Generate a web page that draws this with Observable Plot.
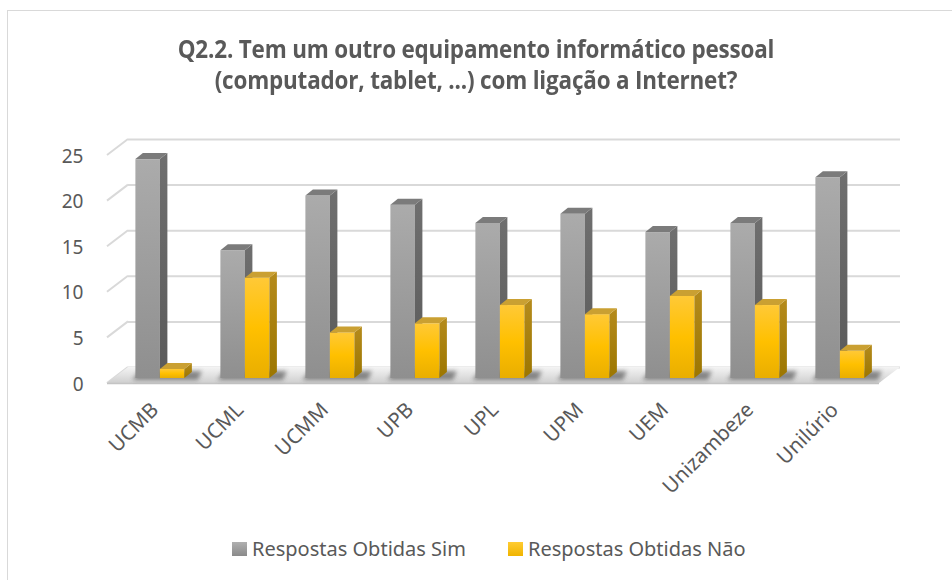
<!DOCTYPE html>
<html><head><meta charset="utf-8">
<script src="https://cdn.jsdelivr.net/npm/d3@7"></script>
<script src="https://cdn.jsdelivr.net/npm/@observablehq/plot@0.6"></script>
<style>
html,body{margin:0;padding:0;background:#fff;overflow:hidden;}
#frame{position:absolute;left:7px;top:10px;width:1000px;height:700px;border:1.5px solid #d9d9d9;box-sizing:border-box;pointer-events:none;}
#title{position:relative;height:115px;box-sizing:border-box;padding-top:33px;text-align:center;
 font-family:"Open Sans","Noto Sans",sans-serif;
 font-weight:bold;font-size:25.5px;color:#595959;}
#title div{height:31px;line-height:31px;}
#title span{display:inline-block;transform:scaleX(0.88);transform-origin:center;letter-spacing:-0.2px;line-height:31px;}
#chart{position:relative;height:405px;}
#legend{position:relative;margin-left:232px;margin-top:15px;display:flex;align-items:center;
 font-family:"Noto Sans",sans-serif;font-size:20px;color:#595959;}
.sw{width:15px;height:14px;display:inline-block;margin-right:5px;}
.item{display:flex;align-items:center;margin-right:42px;}
#chart svg g[aria-label="y-axis tick label"] text{font-size:19px;}
#chart svg g[aria-label="x-axis tick label"] text{font-size:20.5px;}
</style></head>
<body>
<div id="frame"></div>
<div id="title"><div><span>Q2.2. Tem um outro equipamento informático pessoal</span></div><div><span>(computador, tablet, ...) com ligação a Internet?</span></div></div>
<div id="chart"></div>
<div id="legend"></div>
<script>
const categories = ["UCMB","UCML","UCMM","UPB","UPL","UPM","UEM","Unizambeze","Unilúrio"];
const sim = [24,14,20,19,17,18,16,17,22];
const nao = [1,11,5,6,8,7,9,8,3];
const yTicks = [0,5,10,15,20,25];
const seriesNames = ["Respostas Obtidas Sim","Respostas Obtidas Não"];

const rows = categories.map((c,i)=>({cat:c, sim:sim[i], nao:nao[i]}));

// geometry/style constants
const BAR_W = 24.5, DX = 7.5, DY = -6;
const BACK_DX = 15, BACK_DY = -11, FRONT_DX = -6, FRONT_DY = 5;
const W = 952, H = 405, ML = 113, MR = 67, MT = 35, MB = 142;
const step = (W - ML - MR) / categories.length;

const palettes = {
  sim: {front:["#ababab","#8f8f8f"], side:["#6f6f6f","#5a5a5a"], top:"#7b7b7b"},
  nao: {front:["#ffc937","#ffc000","#e9ae00"], side:["#b58b1c","#9c7600"], top:"#caa032"}
};

function grad(defs, id, stops){
  const lg = defs.append("linearGradient").attr("id", id).attr("x1",0).attr("y1",0).attr("x2",0).attr("y2",1);
  stops.forEach((c,i)=> lg.append("stop").attr("offset", i/(stops.length-1)).attr("stop-color", c));
}

function boxes(key){
  return (index, scales, values, dimensions) => {
    const g = d3.create("svg:g");
    const defs = g.append("defs");
    const p = palettes[key];
    grad(defs, key+"Front", p.front);
    grad(defs, key+"Side", p.side);
    for (const i of index) {
      const d = rows[i];
      const center = scales.x(d.cat) + step/2;
      const x = key === "sim" ? center - BAR_W : center;
      const y1 = scales.y(0), y2 = scales.y(d[key]);
      g.append("rect").attr("x", x).attr("y", y2).attr("width", BAR_W).attr("height", y1 - y2)
        .attr("fill", `url(#${key}Front)`);
      g.append("path").attr("d", `M${x+BAR_W},${y1}L${x+BAR_W+DX},${y1+DY}L${x+BAR_W+DX},${y2+DY}L${x+BAR_W},${y2}Z`)
        .attr("fill", `url(#${key}Side)`);
      g.append("path").attr("d", `M${x},${y2}L${x+DX},${y2+DY}L${x+BAR_W+DX},${y2+DY}L${x+BAR_W},${y2}Z`)
        .attr("fill", p.top);
    }
    return g.node();
  };
}

function floor(index, scales, values, dimensions){
  const g = d3.create("svg:g");
  const defs = g.append("defs");
  grad(defs, "floorG", ["#f4f4f4","#e2e2e2","#cfcfcf"]);
  const f = defs.append("filter").attr("id","blur").attr("x","-50%").attr("y","-50%").attr("width","200%").attr("height","200%");
  f.append("feGaussianBlur").attr("stdDeviation", 2.2);
  const y0 = scales.y(0);
  const xl = dimensions.marginLeft, xr = dimensions.width - dimensions.marginRight;
  g.append("path").attr("d",
    `M${xl+FRONT_DX},${y0+FRONT_DY}L${xr+FRONT_DX},${y0+FRONT_DY}L${xr+BACK_DX},${y0+BACK_DY}L${xl+BACK_DX},${y0+BACK_DY}Z`)
    .attr("fill","url(#floorG)");
  g.append("line").attr("x1", xl+FRONT_DX).attr("x2", xr+FRONT_DX).attr("y1", y0+FRONT_DY+0.5).attr("y2", y0+FRONT_DY+0.5)
    .attr("stroke","#c4c4c4").attr("stroke-width",1.5);
  for (const i of index) {
    const d = rows[i];
    const center = scales.x(d.cat) + step/2;
    g.append("path").attr("d",
      `M${center-BAR_W-3},${y0+2}L${center+BAR_W+DX+6},${y0+2}L${center+BAR_W+DX+10},${y0-7}L${center-BAR_W+4},${y0-7}Z`)
      .attr("fill","#3a3a3a").attr("opacity",0.55).attr("filter","url(#blur)");
  }
  return g.node();
}

function diagonals(index, scales, values, dimensions){
  const g = d3.create("svg:g");
  const xl = dimensions.marginLeft;
  for (const i of index) {
    const y = scales.y(yTicks[i]);
    g.append("line").attr("x1", xl+FRONT_DX).attr("y1", y+FRONT_DY).attr("x2", xl+BACK_DX).attr("y2", y+BACK_DY)
      .attr("stroke","#d9d9d9").attr("stroke-width",2);
  }
  return g.node();
}

const chart = Plot.plot({
  width: W, height: H,
  marginLeft: ML, marginRight: MR, marginTop: MT, marginBottom: MB,
  style: {fontFamily: "'Noto Sans', sans-serif", color: "#595959", background: "transparent", fontSize: "18px"},
  x: {type: "band", domain: categories, padding: 0},
  y: {domain: [0, 25], range: [H - MB, MT]},
  marks: [
    Plot.ruleY(yTicks, {y: d => d, dx: BACK_DX, dy: BACK_DY, stroke: "#d9d9d9", strokeWidth: 2}),
    Plot.ruleY(yTicks, {y: d => d, render: diagonals}),
    Plot.barY(rows, {x: "cat", y: "sim", render: floor}),
    Plot.barY(rows, {x: "cat", y: "sim", render: boxes("sim")}),
    Plot.barY(rows, {x: "cat", y: "nao", render: boxes("nao")}),
    Plot.axisY({ticks: yTicks, tickSize: 0, tickPadding: 30, dy: 6, label: null, fill: "#595959"}),
    Plot.axisX({tickRotate: -45, tickSize: 0, tickPadding: 28, dx: -5, label: null, fill: "#595959"})
  ]
});
document.getElementById("chart").appendChild(chart);

const legendColors = [["#b0b0b0","#8a8a8a"],["#ffcc33","#f0b400"]];
const leg = d3.select("#legend");
seriesNames.forEach((name, i) => {
  const it = leg.append("div").attr("class","item");
  it.append("span").attr("class","sw").style("background", `linear-gradient(${legendColors[i][0]}, ${legendColors[i][1]})`);
  it.append("span").text(name);
});
</script>
</body></html>
